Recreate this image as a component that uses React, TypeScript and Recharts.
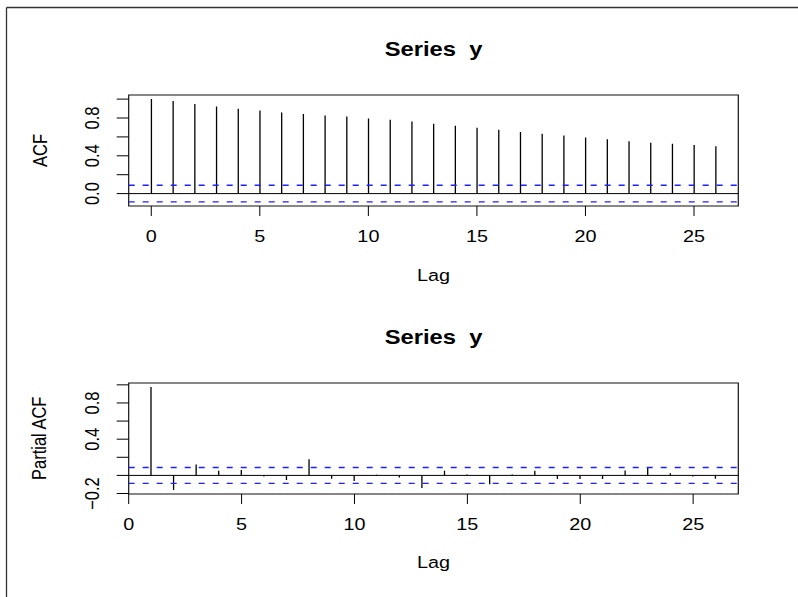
import React from 'react';
import { ComposedChart, Bar, XAxis, YAxis, ReferenceLine, ReferenceArea } from 'recharts';

// ACF of series y, lags 0..26
const acfLags = [0, 1, 2, 3, 4, 5, 6, 7, 8, 9, 10, 11, 12, 13, 14, 15, 16, 17, 18, 19, 20, 21, 22, 23, 24, 25, 26];
const acfValues = [
  1.0, 0.979, 0.947, 0.923, 0.898, 0.88, 0.859, 0.842, 0.827, 0.817, 0.796, 0.782, 0.764, 0.739,
  0.718, 0.697, 0.676, 0.651, 0.634, 0.616, 0.595, 0.574, 0.553, 0.539, 0.528, 0.514, 0.5
];

// partial ACF, lags 1..26
const pacfLags = [1, 2, 3, 4, 5, 6, 7, 8, 9, 10, 11, 12, 13, 14, 15, 16, 17, 18, 19, 20, 21, 22, 23, 24, 25, 26];
const pacfValues = [
  0.975, -0.16, 0.12, 0.05, 0.06, -0.012, -0.052, 0.178, -0.038, -0.062, 0.008, -0.024, -0.14,
  0.05, 0.011, -0.097, 0.01, 0.05, -0.04, -0.04, -0.04, 0.055, 0.089, 0.025, -0.012, -0.036
];

const confLimit = 0.088;

const lagTicks = [0, 5, 10, 15, 20, 25];
const acfYTicks = [0, 0.2, 0.4, 0.6, 0.8, 1.0];
const acfYLabels = [0, 0.4, 0.8];
const pacfYTicks = [-0.2, 0, 0.2, 0.4, 0.6, 0.8, 1.0];
const pacfYLabels = [-0.2, 0.4, 0.8];

const acfData = acfLags.map((lag, i) => ({ lag, value: acfValues[i] }));
const pacfData = pacfLags.map((lag, i) => ({ lag, value: pacfValues[i] }));

const FONT = '"Liberation Sans", Arial, Helvetica, sans-serif';
const STRETCH = 1.2;
const CI_BLUE = '#1f1fff';

const fmt = (v: number) => {
  const s = Math.abs(v).toFixed(1);
  return v < -1e-9 ? `\u2212${s}` : s;
};

const makeYTick = (labels: number[]) => (props: any) => {
  const { x, y, payload } = props;
  if (!labels.some((l) => Math.abs(l - payload.value) < 1e-9)) return <g />;
  return (
    <text
      transform={`translate(${x - 16},${y}) scale(${STRETCH},1) rotate(-90)`}
      textAnchor="middle"
      fontSize={16.5}
      fontFamily={FONT}
      fill="#000"
    >
      {fmt(payload.value)}
    </text>
  );
};

const XTick = (props: any) => {
  const { x, y, payload } = props;
  return (
    <text
      transform={`translate(${x},${y + 24}) scale(${STRETCH},1)`}
      textAnchor="middle"
      fontSize={16.5}
      fontFamily={FONT}
      fill="#000"
    >
      {payload.value}
    </text>
  );
};

const Spike = (props: any) => {
  const { x, y, width, height } = props;
  const cx = x + width / 2;
  return <line x1={cx} x2={cx} y1={y} y2={y + height} stroke="#000" strokeWidth={1.3} />;
};

interface PanelProps {
  data: { lag: number; value: number }[];
  xDomain: [number, number];
  yDomain: [number, number];
  yTicks: number[];
  yLabels: number[];
  top: number;
}

const Panel: React.FC<PanelProps> = ({ data, xDomain, yDomain, yTicks, yLabels, top }) => (
  <div style={{ position: 'absolute', left: 0, top, width: 798, height: 300 }}>
    <ComposedChart
      width={798}
      height={300}
      data={data}
      margin={{ top: 95, right: 59.7, bottom: 54, left: 68.7 }}
    >
      <XAxis
        dataKey="lag"
        type="number"
        domain={xDomain}
        ticks={lagTicks}
        interval={0}
        allowDataOverflow
        axisLine={false}
        tickSize={10}
        tickLine={{ stroke: '#000', strokeWidth: 1 }}
        height={40}
        tick={<XTick />}
      />
      <YAxis
        type="number"
        domain={yDomain}
        ticks={yTicks}
        interval={0}
        allowDataOverflow
        axisLine={false}
        tickSize={12}
        tickLine={{ stroke: '#000', strokeWidth: 1 }}
        width={60}
        tick={makeYTick(yLabels)}
      />
      <ReferenceArea
        x1={xDomain[0]}
        x2={xDomain[1]}
        y1={yDomain[0]}
        y2={yDomain[1]}
        fill="none"
        fillOpacity={0}
        stroke="#111"
        strokeWidth={1.2}
      />
      <ReferenceLine y={0} stroke="#000" strokeWidth={1} />
      <ReferenceLine y={confLimit} stroke={CI_BLUE} strokeDasharray="6 8" strokeWidth={1.4} />
      <ReferenceLine y={-confLimit} stroke={CI_BLUE} strokeDasharray="6 8" strokeWidth={1.4} />
      <Bar dataKey="value" barSize={2} fill="#000" shape={<Spike />} isAnimationActive={false} />
    </ComposedChart>
  </div>
);

const Txt: React.FC<{ x: number; y: number; size: number; bold?: boolean; rotate?: boolean; children: React.ReactNode }> = ({
  x,
  y,
  size,
  bold,
  rotate,
  children
}) => (
  <text
    transform={`translate(${x},${y}) scale(${STRETCH},1)${rotate ? ' rotate(-90)' : ''}`}
    textAnchor="middle"
    fontSize={size}
    fontWeight={bold ? 'bold' : 'normal'}
    fontFamily={FONT}
    fill="#000"
    style={{ whiteSpace: 'pre' }}
  >
    {children}
  </text>
);

export default function App() {
  return (
    <div style={{ position: 'absolute', left: 0, top: 0, width: 798, height: 597, background: '#fff', overflow: 'hidden' }}>
      <Panel data={acfData} xDomain={[-1.04, 27.04]} yDomain={[-0.1312, 1.0435]} yTicks={acfYTicks} yLabels={acfYLabels} top={0} />
      <Panel data={pacfData} xDomain={[0, 27]} yDomain={[-0.2054, 1.0204]} yTicks={pacfYTicks} yLabels={pacfYLabels} top={287.7} />
      <svg width={798} height={597} style={{ position: 'absolute', left: 0, top: 0, pointerEvents: 'none' }}>
        <line x1={6.5} y1={7.5} x2={6.5} y2={597} stroke="#333" strokeWidth={1.3} />
        <line x1={6.5} y1={7.5} x2={798} y2={7.5} stroke="#333" strokeWidth={1.3} />
        <Txt x={433.5} y={56} size={19.8} bold>{'Series  y'}</Txt>
        <Txt x={433.5} y={281} size={16.5}>Lag</Txt>
        <Txt x={47} y={150.5} size={16.5} rotate>ACF</Txt>
        <Txt x={433.5} y={344} size={19.8} bold>{'Series  y'}</Txt>
        <Txt x={433.5} y={568} size={16.5}>Lag</Txt>
        <Txt x={46} y={438.3} size={16.5} rotate>Partial ACF</Txt>
      </svg>
    </div>
  );
}
